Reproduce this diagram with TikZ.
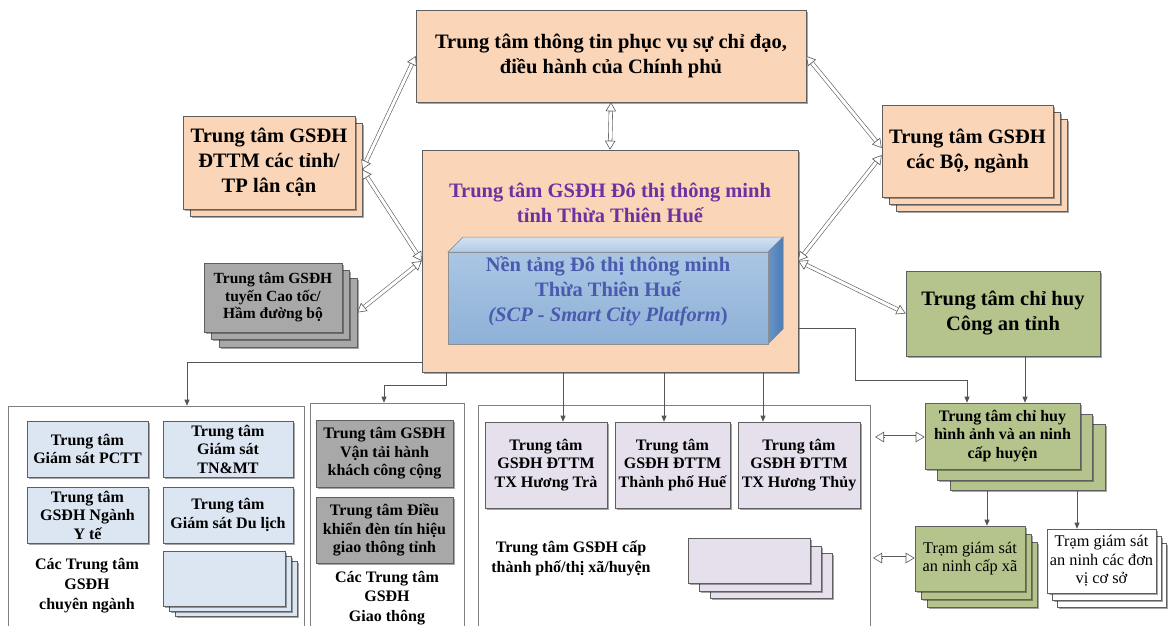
\documentclass[tikz,border=0pt]{standalone}
\usepackage{fontspec}
\setmainfont{Liberation Serif}
\usetikzlibrary{arrows.meta,shadows,calc}
\definecolor{peach}{HTML}{FAD5B8}
\definecolor{grayfill}{HTML}{A8A8A8}
\definecolor{greenfill}{HTML}{B5C48C}
\definecolor{lblue}{HTML}{DCE6F2}
\definecolor{lav}{HTML}{E5E0EC}
\definecolor{bord}{HTML}{5F5F5F}
\definecolor{purp}{HTML}{7030A0}
\definecolor{scptext}{HTML}{4A5AAE}
\definecolor{linec}{HTML}{555555}
\newcommand\mkbox[7]{\node[#6, minimum width={(#4)-(#2)}, minimum height={(#5)-(#3)}] (#1) at ({((#2)+(#4))/2},{((#3)+(#5))/2}) {#7};}
\newcommand\dblarr[2]{%
  \draw[dblshaft, shorten <=8pt, shorten >=8pt] (#1) -- (#2);
  \draw[dbltip] ($(#1)!9pt!(#2)$) -- (#1);
  \draw[dbltip] ($(#2)!9pt!(#1)$) -- (#2);}
\begin{document}
\begin{tikzpicture}[x=1pt,y=-1pt,
  box/.style={draw=bord, line width=0.6pt, align=center, inner sep=0pt,
    drop shadow={shadow xshift=1.8pt, shadow yshift=-1.8pt, fill=black, opacity=0.35}},
  big/.style={font=\fontsize{20.5}{25}\selectfont\bfseries},
  small/.style={font=\fontsize{16}{18.5}\selectfont\bfseries},
  smallreg/.style={font=\fontsize{16.3}{18.5}\selectfont},
  pbox/.style={box, fill=peach, big},
  gbox/.style={box, fill=grayfill, small},
  grbox/.style={box, fill=greenfill},
  bbox/.style={box, fill=lblue, small},
  lbox/.style={box, fill=lav, small},
  wbox/.style={box, fill=white},
  cont/.style={draw=bord!80, line width=0.6pt, fill=white,
    drop shadow={shadow xshift=1.2pt, shadow yshift=-1.2pt, fill=black, opacity=0.25}},
  lbl/.style={align=center, inner sep=0pt},
  conn/.style={draw=linec, line width=0.7pt, -{Triangle[length=6pt,width=5pt]}},
  dblshaft/.style={draw=gray!70!black, line width=0.6pt, double=white, double distance=3pt},
  dbltip/.style={draw=gray!70!black, line width=0.6pt, -{Triangle[open, fill=white, length=9pt, width=10.5pt]}}
]
\useasboundingbox (0,0) rectangle (1168,625);
\clip (0,0) rectangle (1168,625);

% ---------- top row ----------
\mkbox{top}{416}{10}{806}{102}{pbox}{Trung tâm thông tin phục vụ sự chỉ đạo,\\điều hành của Chính phủ}

\mkbox{lb2}{183+7}{116+7}{355+7}{209+7}{pbox}{}
\mkbox{lb}{183}{116}{355}{209}{pbox}{Trung tâm GSĐH\\ĐTTM các tỉnh/\\TP lân cận}

\mkbox{rb3}{882+14}{105+14}{1053+14}{197+14}{pbox}{}
\mkbox{rb2}{882+7}{105+7}{1053+7}{197+7}{pbox}{}
\mkbox{rb}{882}{105}{1053}{197}{pbox}{Trung tâm GSĐH\\các Bộ, ngành}

\mkbox{police}{906}{271}{1100}{356}{grbox, big}{Trung tâm chỉ huy\\Công an tỉnh}

\mkbox{gs3}{204+15}{263+15}{342+15}{332+15}{gbox}{}
\mkbox{gs2}{204+7}{263+7}{342+7}{332+7}{gbox}{}
\mkbox{gs}{204}{263}{342}{332}{gbox, font=\fontsize{15.5}{17.3}\selectfont\bfseries}{Trung tâm GSĐH\\tuyến Cao tốc/\\Hầm đường bộ}

% ---------- centre ----------
\mkbox{ctr}{422}{150}{798}{372}{pbox}{}
\node[lbl, big, text=purp] (ctrtitle) at (610,203) {Trung tâm GSĐH Đô thị thông minh\\tỉnh Thừa Thiên Huế};

\fill[top color={rgb,255:red,210;green,226;blue,242}, bottom color={rgb,255:red,176;green,203;blue,230}, draw=bord!70, line width=0.5pt]
  (448,252) -- (463,237) -- (783,237) -- (768,252) -- cycle;
\fill[left color={rgb,255:red,104;green,148;blue,200}, right color={rgb,255:red,76;green,124;blue,182}, draw=bord!70, line width=0.5pt]
  (768,252) -- (783,237) -- (783,329) -- (768,344) -- cycle;
\mkbox{scp}{448}{252}{768}{344}{draw=bord!70, line width=0.5pt, top color={rgb,255:red,170;green,198;blue,228}, bottom color={rgb,255:red,142;green,177;blue,215}}{}
\node[lbl, big, text=scptext] (scptxt) at (608,291) {Nền tảng Đô thị thông minh\\Thừa Thiên Huế\\\textit{(SCP - Smart City Platform})};

% ---------- double arrows (top) ----------
\dblarr{top.south}{ctr.north}
\dblarr{top.west}{lb2.east}
\dblarr{lb2.east}{ctr.west}
\dblarr{gs3.east}{ctr.west}
\dblarr{top.east}{$(rb.west)+(0,-3)$}
\dblarr{ctr.east}{$(rb.west)+(0,4)$}
\dblarr{ctr.east}{police.west}

% ---------- containers ----------
\mkbox{cont1}{8}{406}{304}{680}{cont}{}
\mkbox{cont2}{310}{403}{464}{680}{cont}{}
\mkbox{cont3}{478}{405}{870}{680}{cont}{}

% container 1
\mkbox{pctt}{27}{421}{148}{477}{bbox}{Trung tâm\\Giám sát PCTT}
\mkbox{tnmt}{163}{421}{293}{477}{bbox}{Trung tâm\\Giám sát\\TN\&MT}
\mkbox{yte}{27}{487}{148}{543}{bbox}{Trung tâm\\GSĐH Ngành\\Y tế}
\mkbox{dulich}{163}{487}{293}{543}{bbox}{Trung tâm\\Giám sát Du lịch}
\mkbox{cn3}{163+12}{551+10}{285+12}{606+10}{bbox}{}
\mkbox{cn2}{163+6}{551+5}{285+6}{606+5}{bbox}{}
\mkbox{cn}{163}{551}{285}{606}{bbox}{}
\node[lbl, font=\fontsize{16}{20}\selectfont\bfseries] (cnlbl) at (87,586) {Các Trung tâm\\GSĐH\\chuyên ngành};

% container 2
\mkbox{vt}{316}{420}{453}{487}{gbox}{Trung tâm GSĐH\\Vận tải hành\\khách công cộng}
\mkbox{dk}{316}{497}{453}{563}{gbox}{Trung tâm Điều\\khiển đèn tín hiệu\\giao thông tỉnh}
\node[lbl, font=\fontsize{16}{19.5}\selectfont\bfseries] (gtlbl) at (387,598) {Các Trung tâm\\GSĐH\\Giao thông};

% container 3
\mkbox{tra}{485}{422}{607}{508}{lbox}{Trung tâm\\GSĐH ĐTTM\\TX Hương Trà}
\mkbox{hue}{615}{422}{730}{508}{lbox}{Trung tâm\\GSĐH ĐTTM\\Thành phố Huế}
\mkbox{thuy}{738}{422}{860}{508}{lbox}{Trung tâm\\GSĐH ĐTTM\\TX Hương Thủy}
\mkbox{tp3}{688+22}{538+15}{810+22}{583+15}{lbox}{}
\mkbox{tp2}{688+11}{538+8}{810+11}{583+8}{lbox}{}
\mkbox{tp}{688}{538}{810}{583}{lbox}{}
\node[lbl, font=\fontsize{16}{20}\selectfont\bfseries] (tplbl) at (571,558) {Trung tâm GSĐH cấp\\thành phố/thị xã/huyện};

% right branch
\mkbox{hy3}{925+25}{403+21}{1080+25}{469+21}{grbox}{}
\mkbox{hy2}{925+12}{403+11}{1080+12}{469+11}{grbox}{}
\mkbox{hy}{925}{403}{1080}{469}{grbox, small}{Trung tâm chỉ huy\\hình ảnh và an ninh\\cấp huyện}

\mkbox{xa3}{915+12}{526+16}{1025+12}{591+16}{grbox}{}
\mkbox{xa2}{915+6}{526+8}{1025+6}{591+8}{grbox}{}
\mkbox{xa}{915}{526}{1025}{591}{grbox, smallreg}{Trạm giám sát\\an ninh cấp xã}

\mkbox{cs3}{1047+10}{529+14}{1156+10}{593+14}{wbox}{}
\mkbox{cs2}{1047+5}{529+7}{1156+5}{593+7}{wbox}{}
\mkbox{cs}{1047}{529}{1156}{593}{wbox, smallreg}{Trạm giám sát\\an ninh các đơn\\vị cơ sở}

% ---------- connectors ----------
\coordinate (xA) at (187,362);
\draw[conn] (ctr.west |- xA) -| (cont1.north -| xA);

\coordinate (xB1) at (446,385);
\coordinate (xB2) at (384,385);
\draw[conn] (ctr.south -| xB1) -- (xB1) -- (xB2) -- (cont2.north -| xB2);

\coordinate (xC1) at (563,0);
\coordinate (xC2) at (664,0);
\coordinate (xC3) at (763,0);
\draw[conn] (ctr.south -| xC1) -- (tra.north -| xC1);
\draw[conn] (ctr.south -| xC2) -- (hue.north -| xC2);
\draw[conn] (ctr.south -| xC3) -- (thuy.north -| xC3);

\coordinate (d1) at (855,328);
\coordinate (d2) at (855,380);
\coordinate (d3) at (967,380);
\draw[conn] (ctr.east |- d1) -- (d1) -- (d2) -- (d3) -- (hy.north -| d3);

\coordinate (xE) at (1025,0);
\draw[conn] (police.south -| xE) -- (hy.north -| xE);

\coordinate (xF1) at (987,0);
\coordinate (xF2) at (1077,0);
\draw[conn] (hy3.south -| xF1) -- (xa.north -| xF1);
\draw[conn] (hy3.south -| xF2) -- (cs.north -| xF2);

\coordinate (hyl) at (875,437);
\coordinate (xal) at (873,558);
\dblarr{hyl}{hy.west |- hyl}
\dblarr{xal}{xa.west |- xal}
\end{tikzpicture}
\end{document}
